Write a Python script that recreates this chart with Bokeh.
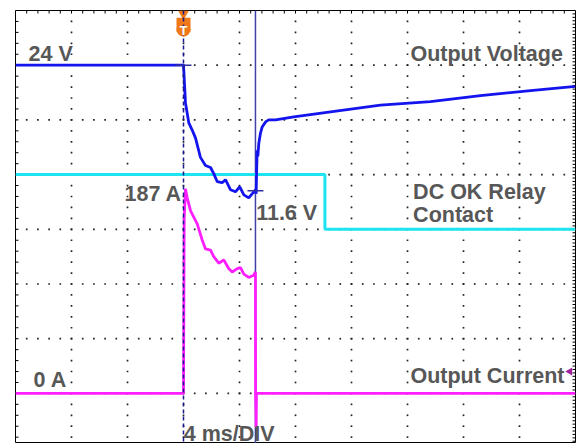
import numpy as np
from bokeh.plotting import figure
from bokeh.models import Range1d, Label, Span
from bokeh.embed import file_html
from bokeh.resources import INLINE

# ---------------- data ----------------
# time base: 4 ms/DIV, trigger at t = 0 ms (3rd division)
T_START, T_END, MS_PER_DIV = -12.0, 28.0, 4.0

# Output voltage (V)
volt_t = [-12.0, 0.0, 0.07, 0.14, 0.38, 0.62, 0.86, 1.21, 1.57, 1.93, 2.16, 2.41,
          2.76, 3.0, 3.36, 3.71, 4.02, 4.31, 4.66, 5.02, 5.14, 5.19, 5.21, 5.26,
          5.31, 5.38, 5.5, 5.62, 5.86, 6.09, 6.57, 7.88, 10.5, 14.07, 17.64,
          21.21, 24.79, 28.0]
volt_v = [24.0, 24.0, 22.2, 20.3, 18.3, 17.6, 16.8, 14.9, 14.1, 13.9, 13.3, 12.5,
          12.4, 12.7, 11.7, 11.5, 12.0, 11.2, 10.9, 11.5, 11.7, 11.3, 12.7, 15.6,
          15.0, 16.3, 17.3, 17.9, 18.4, 18.6, 18.6, 18.9, 19.4, 20.05, 20.4,
          21.0, 21.5, 21.9]

# Output current (A)
curr_t = [-12.0, 0.0, 0.05, 0.14, 0.26, 0.5, 0.74, 0.98, 1.34, 1.57, 1.93, 2.16,
          2.52, 2.88, 3.24, 3.48, 3.84, 4.07, 4.31, 4.66, 5.02, 5.14, 5.15, 5.19,
          5.21, 28.0]
curr_a = [0, 0, 160, 187, 179, 167, 161, 155, 140, 132, 131, 125,
          119, 122, 114, 111, 114, 115, 109, 106, 108, 111, 0, -31,
          0, 0]

# DC OK relay contact (1 = closed, 0 = open)
relay_t = [-12.0, 10.1, 10.1, 28.0]
relay_s = [1, 1, 0, 0]

# cursor / trigger
TRIG_T = 0.0
CURSOR_T = 5.14
CURSOR_V = [24.0, 11.6]
CURSOR_VT = [0.0, 5.14]

# channel scales (divisions)
VOLT_PER_DIV, VOLT_REF, VOLT_REF_DIV = 5.4, 24.0, 7.0
AMP_PER_DIV, AMP_ZERO_DIV = 50.0, 1.0
RELAY_LOW_DIV = 4.0

Y_TOP = 8.0
Y_BOT = 8.0 - 433.0 / 54.7

TXT = "#575757"
FONT = "Liberation Sans"

p = figure(width=581, height=443, x_range=Range1d(T_START, T_END),
           y_range=Range1d(Y_BOT, Y_TOP), output_backend="svg",
           toolbar_location=None, x_axis_location=None, y_axis_location=None,
           min_border_left=15, min_border_right=6, min_border_top=10,
           min_border_bottom=0)
p.xgrid.visible = False
p.ygrid.visible = False
p.outline_line_color = "black"
p.outline_line_width = 1
p.background_fill_color = "white"
p.border_fill_color = "white"

p.extra_y_ranges = {
    "volt": Range1d(VOLT_REF + (Y_BOT - VOLT_REF_DIV) * VOLT_PER_DIV,
                    VOLT_REF + (Y_TOP - VOLT_REF_DIV) * VOLT_PER_DIV),
    "amp": Range1d((Y_BOT - AMP_ZERO_DIV) * AMP_PER_DIV,
                   (Y_TOP - AMP_ZERO_DIV) * AMP_PER_DIV),
    "relay": Range1d(Y_BOT - RELAY_LOW_DIV, Y_TOP - RELAY_LOW_DIV),
}

# border ticks (graticule)
step_t = MS_PER_DIV / 5
tx_len = 3 * (T_END - T_START) / 560.0   # 3 px in ms
ty_len = 3 / 54.7                          # 3 px in divisions
tt = np.arange(T_START, T_END + 0.01, step_t)
p.segment(x0=tt, x1=tt, y0=[Y_TOP] * len(tt), y1=[Y_TOP - ty_len] * len(tt),
          line_color="black", line_width=1)
ly = np.arange(0.2, Y_TOP, 0.2)
p.segment(x0=[T_START] * len(ly), x1=[T_START + tx_len] * len(ly), y0=ly, y1=ly,
          line_color="black", line_width=1)
ry = np.arange(0.0625, Y_TOP, 0.0625)
p.segment(x0=[T_END] * len(ry), x1=[T_END - tx_len] * len(ry), y0=ry, y1=ry,
          line_color="black", line_width=1)

# dotted graticule
gx, gy = [], []
for d in range(1, 8):
    for t in np.arange(T_START, T_END + 0.01, step_t):
        gx.append(t); gy.append(d)
for t in np.arange(T_START + MS_PER_DIV, T_END - 0.01, MS_PER_DIV):
    for d in np.arange(0.2, Y_TOP, 0.2):
        gx.append(t); gy.append(d)
p.scatter(gx, gy, marker="square", size=1.7, color="#222222", line_width=0)

# cursor line (under traces)
p.add_layout(Span(location=CURSOR_T, dimension="height", line_color="#4040a8",
                  line_width=1.5, level="underlay"))

# traces
p.line(relay_t, relay_s, y_range_name="relay", color="#1ee4f0", line_width=3)
p.line(curr_t, curr_a, y_range_name="amp", color="#ff1eff", line_width=2.8)
p.line(volt_t, volt_v, y_range_name="volt", color="#1414ee", line_width=2.8)

# cursor crosses
half = 0.57
p.segment(x0=[c - half for c in CURSOR_VT], x1=[c + half for c in CURSOR_VT],
          y0=CURSOR_V, y1=CURSOR_V, y_range_name="volt",
          line_color="#3030a0", line_width=1.5)

# trigger line
p.add_layout(Span(location=TRIG_T, dimension="height", line_color="#1a1a8c",
                  line_width=1.5, line_dash="4 3"))

# trigger marker
p.scatter([TRIG_T], [Y_TOP - 0.06], marker="inverted_triangle", size=11,
          color="#f07818", line_width=0)
p.scatter([TRIG_T], [Y_TOP - 0.26], marker="square", size=14,
          color="#f07818", line_width=0)
p.scatter([TRIG_T], [Y_TOP - 0.35], marker="circle", size=14,
          color="#f07818", line_width=0)
p.add_layout(Label(x=TRIG_T, y=Y_TOP - 0.36, text="T", text_color="white",
                   text_font=FONT, text_font_style="bold",
                   text_font_size="13px", text_align="center",
                   text_baseline="middle"))

# channel marker (current)
p.scatter([27.6], [1.40], marker="triangle", angle=np.pi / 2, size=8,
          color="#a020a0", line_width=0)

SHIFT = 0.13  # label baseline correction (divisions)
labels = [
    ("24 V", -11.07, 7.07),
    ("Output Voltage", 16.21, 7.07),
    ("DC OK Relay", 16.4, 4.56),
    ("Contact", 16.4, 4.13),
    ("187 A", -4.21, 4.52),
    ("11.6 V", 5.19, 4.16),
    ("0 A", -10.71, 1.11),
    ("Output Current", 16.21, 1.18),
    ("4 ms/DIV", 0.02, 0.12),
]
for txt, x, y in labels:
    p.add_layout(Label(x=x, y=y + SHIFT, text=txt, text_color=TXT, text_font=FONT,
                       text_font_style="bold", text_font_size="21.5px",
                       text_baseline="alphabetic"))

open("out.html", "w").write(file_html(p, INLINE))
